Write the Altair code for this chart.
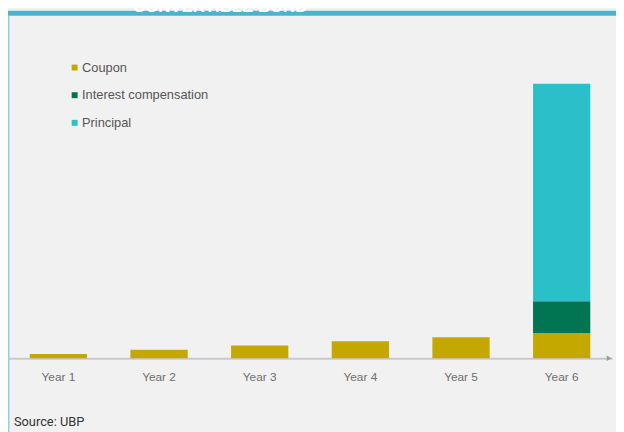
import altair as alt
import pandas as pd

years = ["Year 1", "Year 2", "Year 3", "Year 4", "Year 5", "Year 6"]
components = ["Coupon", "Interest compensation", "Principal"]
coupon = [1, 2, 3, 4, 5, 6]
interest = [0, 0, 0, 0, 0, 7.5]
principal = [0, 0, 0, 0, 0, 51.5]
colors = ["#c4a800", "#017452", "#2bbfca"]
title_text = "CONVERTIBLE BOND"
source_text = "Source: UBP"

rows = []
for i, y in enumerate(years):
    for k, (name, vals) in enumerate(zip(components, [coupon, interest, principal])):
        if vals[i] > 0:
            rows.append({"year": y, "component": name, "value": vals[i], "ord": k})
df = pd.DataFrame(rows)

W, H = 612, 352

bars = alt.Chart(df).mark_bar(size=58).encode(
    x=alt.X("year:N", sort=years,
            scale=alt.Scale(paddingInner=0.431, paddingOuter=0.216),
            axis=alt.Axis(title=None, labelAngle=0, ticks=False, tickSize=0,
                          domainColor="#c8c8cf", domainWidth=2,
                          labelColor="#6e6e6e", labelFontSize=12,
                          labelFont="Liberation Sans", labelPadding=14,
                          grid=False)),
    y=alt.Y("value:Q", stack="zero", scale=alt.Scale(domain=[0, 82.3]), axis=None),
    color=alt.Color("component:N",
                    scale=alt.Scale(domain=components, range=colors),
                    legend=alt.Legend(title=None, orient="none", legendX=61, legendY=51,
                                      symbolType="square", symbolSize=36,
                                      symbolStrokeWidth=0,
                                      labelFontSize=13, labelFont="Liberation Sans",
                                      labelColor="#555555", rowPadding=14,
                                      labelOffset=1)),
    order=alt.Order("ord:Q"),
)

deco = pd.DataFrame({"t": [title_text]})
band = alt.Chart(deco).mark_rect(color="#4ab3cf").encode(
    x=alt.value(0), x2=alt.value(W + 4), y=alt.value(0), y2=alt.value(5))
title = alt.Chart(deco).mark_text(color="white", fontWeight="bold", fontSize=17,
                                  font="Liberation Sans", baseline="alphabetic",
                                  align="center").encode(
    x=alt.value(215), y=alt.value(1), text="t:N")
leftline = alt.Chart(deco).mark_rect(color="#8fd0e2").encode(
    x=alt.value(0), x2=alt.value(1.5), y=alt.value(5), y2=alt.value(432))
arrow = alt.Chart(deco).mark_point(shape="triangle-right", filled=True,
                                   color="#9a9aa2", size=30, opacity=1).encode(
    x=alt.value(609), y=alt.value(H))
src = alt.Chart(pd.DataFrame({"t": [source_text]})).mark_text(
    color="#333333", fontSize=13, font="Roboto", align="left",
    baseline="alphabetic").encode(x=alt.value(6), y=alt.value(421), text="t:N")

chart = alt.layer(band, title, leftline, bars, arrow, src).properties(
    width=W, height=H,
    autosize=alt.AutoSizeParams(type="none"),
    padding={"left": 0, "top": 0, "right": 4, "bottom": 80},
    background="#f2f1f2",
).configure_view(stroke=None)

chart.save("out.html", embed_options={"renderer": "svg", "actions": False})
